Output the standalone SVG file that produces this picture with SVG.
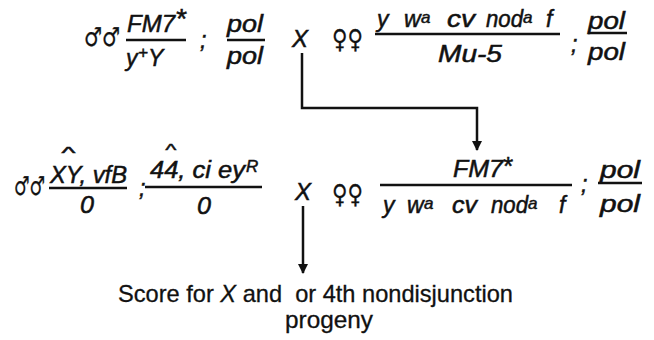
<svg xmlns="http://www.w3.org/2000/svg" width="654" height="340" viewBox="0 0 654 340">
<defs>
<style>
text{font-family:"Liberation Sans","DejaVu Sans",sans-serif;fill:#111;stroke:#111;stroke-width:0.5;}
.g{font-style:italic;font-size:23px;}
.sup{font-size:17px;}
.hat{font-style:italic;font-size:17px;}
.sym{font-family:"DejaVu Sans",sans-serif;font-size:26px;stroke-width:0.3;}
.bar{stroke:#111;stroke-width:2.5;fill:none;}
.conn{stroke:#111;stroke-width:2.5;fill:none;}
.t{font-size:24px;stroke-width:0.3;white-space:pre;}
</style>
<marker id="ah" viewBox="0 0 10 10" refX="9" refY="5" markerWidth="4" markerHeight="4" orient="auto" markerUnits="strokeWidth">
<path d="M0,0 L10,5 L0,10 z" fill="#111"/>
</marker>
</defs>
<g id="cross1-male">
<text class="sym" x="84" y="46" textLength="36" lengthAdjust="spacingAndGlyphs">♂♂</text>
<text class="g" x="127" y="32"><tspan textLength="48" lengthAdjust="spacingAndGlyphs">FM7</tspan><tspan x="175" y="28" font-size="28">*</tspan></text>
<line class="bar" x1="126" y1="40" x2="186" y2="40"/>
<text class="g" x="126" y="66">y<tspan class="sup" x="138" y="58">+</tspan><tspan x="148" y="66">Y</tspan></text>
<text class="g" x="200" y="48">;</text>
<text class="g" x="227" y="32" textLength="36" lengthAdjust="spacingAndGlyphs">pol</text>
<line class="bar" x1="227" y1="40" x2="265" y2="40"/>
<text class="g" x="227" y="64" textLength="36" lengthAdjust="spacingAndGlyphs">pol</text>
</g>
<g id="cross1-x">
<text class="g" x="292" y="47" textLength="16" lengthAdjust="spacingAndGlyphs">X</text>
</g>
<g id="cross1-female">
<text class="sym" x="332" y="48" textLength="31" lengthAdjust="spacingAndGlyphs">♀♀</text>
<text class="g" x="377" y="27">y<tspan x="404">w</tspan><tspan class="sup" x="421" y="23">a</tspan><tspan x="447" y="27" textLength="28" lengthAdjust="spacingAndGlyphs">cv</tspan><tspan x="486" textLength="37" lengthAdjust="spacingAndGlyphs">nod</tspan><tspan class="sup" x="523" y="23">a</tspan><tspan x="546" y="27">f</tspan></text>
<line class="bar" x1="375" y1="34" x2="560" y2="34"/>
<text class="g" x="438" y="62" textLength="64" lengthAdjust="spacingAndGlyphs">Mu-5</text>
<text class="g" x="571" y="52">;</text>
<text class="g" x="588" y="29" textLength="37" lengthAdjust="spacingAndGlyphs">pol</text>
<line class="bar" x1="588" y1="33" x2="627" y2="33"/>
<text class="g" x="588" y="60" textLength="37" lengthAdjust="spacingAndGlyphs">pol</text>
</g>
<g id="cross2-male">
<text class="sym" x="14" y="195" textLength="31" lengthAdjust="spacingAndGlyphs">♂♂</text>
<text class="hat" x="61" y="159" textLength="14" lengthAdjust="spacingAndGlyphs">^</text>
<text class="g" x="50" y="183" textLength="77" lengthAdjust="spacingAndGlyphs">XY, vfB</text>
<line class="bar" x1="49" y1="188" x2="127" y2="188"/>
<text class="g" x="80" y="213" textLength="14" lengthAdjust="spacingAndGlyphs">0</text>
<text class="g" x="139" y="196">;</text>
<text class="hat" x="165" y="156" textLength="11" lengthAdjust="spacingAndGlyphs">^</text>
<text class="g" x="150" y="178"><tspan textLength="95" lengthAdjust="spacingAndGlyphs">44, ci ey</tspan><tspan class="sup" x="246" y="172">R</tspan></text>
<line class="bar" x1="145" y1="187" x2="262" y2="187"/>
<text class="g" x="197" y="214" textLength="14" lengthAdjust="spacingAndGlyphs">0</text>
</g>
<g id="cross2-x">
<text class="g" x="295" y="200" textLength="16" lengthAdjust="spacingAndGlyphs">X</text>
</g>
<g id="cross2-female">
<text class="sym" x="332" y="203" textLength="31" lengthAdjust="spacingAndGlyphs">♀♀</text>
<text class="g" x="453" y="177"><tspan textLength="50" lengthAdjust="spacingAndGlyphs">FM7</tspan><tspan x="502" y="175" font-size="26">*</tspan></text>
<line class="bar" x1="380" y1="185" x2="572" y2="185"/>
<text class="g" x="383" y="213">y<tspan x="407">w</tspan><tspan class="sup" x="424" y="209">a</tspan><tspan x="452" y="213" textLength="25" lengthAdjust="spacingAndGlyphs">cv</tspan><tspan x="491" textLength="37" lengthAdjust="spacingAndGlyphs">nod</tspan><tspan class="sup" x="528" y="209">a</tspan><tspan x="559" y="213">f</tspan></text>
<text class="g" x="581" y="192">;</text>
<text class="g" x="600" y="178" textLength="40" lengthAdjust="spacingAndGlyphs">pol</text>
<line class="bar" x1="598" y1="183" x2="642" y2="183"/>
<text class="g" x="600" y="212" textLength="40" lengthAdjust="spacingAndGlyphs">pol</text>
</g>
<g id="result">
<text class="t" x="118" y="302" textLength="395" lengthAdjust="spacingAndGlyphs" xml:space="preserve">Score for <tspan font-style="italic">X</tspan> and  or 4th nondisjunction</text>
<text class="t" x="285" y="328" textLength="88" lengthAdjust="spacingAndGlyphs">progeny</text>
</g>
<g id="connectors">
<path class="conn" d="M302,53 V108 H477 V150" marker-end="url(#ah)"/>
<path class="conn" d="M303,206 V273" marker-end="url(#ah)"/>
</g>
</svg>
